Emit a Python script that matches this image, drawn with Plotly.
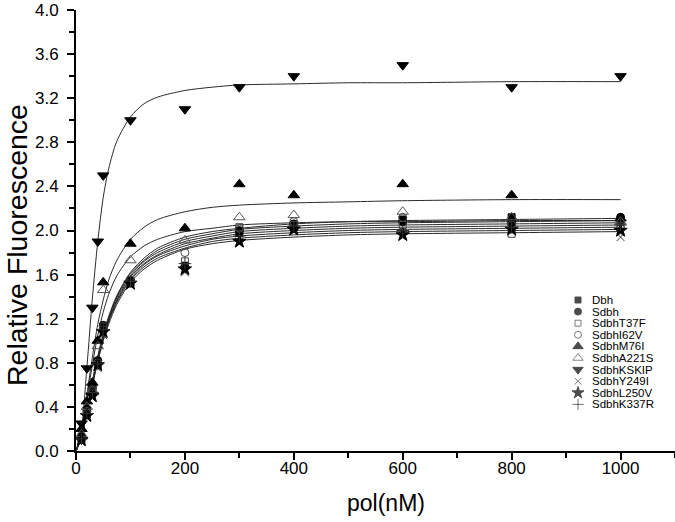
import plotly.graph_objects as go

# ---------------- data ----------------
series_names = ["Dbh", "Sdbh", "SdbhT37F", "SdbhI62V", "SdbhM76I", "SdbhA221S",
                "SdbhKSKIP", "SdbhY249I", "SdbhL250V", "SdbhK337R"]

pol_nM = [10, 20, 30, 40, 50, 100, 200, 300, 400, 600, 800, 1000]

dbh_pts    = [0.12, 0.35, 0.55, 0.80, 1.12, 1.53, 1.68, 1.98, 2.03, 2.10, 2.12, 2.08]
sdbh_pts   = [0.13, 0.38, 0.58, 0.82, 1.14, 1.55, 1.67, 2.00, 2.06, 2.08, 2.07, 2.12]
t37f_pts   = [0.10, 0.33, 0.52, 0.78, 1.10, 1.52, 1.72, 2.03, 2.05, 2.05, 1.97, 2.04]
i62v_pts   = [0.14, 0.36, 0.56, 0.80, 1.13, 1.55, 1.80, 2.02, 2.08, 2.12, 2.05, 2.02]
m76i_pts   = [0.20, 0.45, 0.62, 1.00, 1.53, 1.88, 2.02, 2.42, 2.32, 2.42, 2.32, 2.11]
a221s_pts  = [0.15, 0.40, 0.55, 0.95, 1.46, 1.73, 1.91, 2.12, 2.14, 2.17, 2.12, 2.08]
kskip_pts  = [0.25, 0.75, 1.30, 1.90, 2.50, 3.00, 3.10, 3.30, 3.40, 3.50, 3.30, 3.40]
y249i_pts  = [0.08, 0.30, 0.48, 0.75, 1.05, 1.50, 1.62, 1.90, 2.00, 1.95, 2.00, 1.94]
l250v_pts  = [0.10, 0.32, 0.50, 0.78, 1.08, 1.52, 1.65, 1.90, 2.01, 1.96, 2.01, 2.00]
k337r_pts  = [0.11, 0.34, 0.53, 0.79, 1.10, 1.54, 1.70, 1.95, 2.04, 2.00, 2.03, 2.05]

# fitted curves
fit_x = [0, 10, 20, 30, 40, 50, 60, 75, 100, 125, 150, 200, 250, 300, 400, 500, 600, 800, 1000]

dbh_fit   = [0, .13, .37, .62, .85, 1.05, 1.21, 1.40, 1.61, 1.73, 1.82, 1.92, 1.97, 2.01, 2.04, 2.06, 2.07, 2.08, 2.09]
sdbh_fit  = [0, .13, .37, .63, .86, 1.06, 1.22, 1.41, 1.62, 1.75, 1.84, 1.94, 1.99, 2.02, 2.06, 2.08, 2.09, 2.10, 2.11]
t37f_fit  = [0, .13, .36, .61, .84, 1.03, 1.19, 1.37, 1.58, 1.70, 1.78, 1.88, 1.93, 1.97, 2.00, 2.02, 2.03, 2.04, 2.05]
i62v_fit  = [0, .13, .36, .62, .84, 1.04, 1.20, 1.39, 1.59, 1.72, 1.80, 1.90, 1.95, 1.99, 2.02, 2.04, 2.05, 2.06, 2.07]
m76i_fit  = [0, .17, .51, .85, 1.15, 1.37, 1.55, 1.73, 1.92, 2.03, 2.10, 2.17, 2.21, 2.23, 2.25, 2.26, 2.27, 2.28, 2.28]
a221s_fit = [0, .16, .47, .78, 1.05, 1.26, 1.42, 1.59, 1.76, 1.86, 1.92, 1.99, 2.02, 2.05, 2.07, 2.08, 2.08, 2.09, 2.09]
kskip_fit = [0, .20, .76, 1.38, 1.90, 2.30, 2.56, 2.81, 3.03, 3.15, 3.21, 3.27, 3.30, 3.32, 3.33, 3.34, 3.34, 3.35, 3.35]
y249i_fit = [0, .12, .35, .59, .81, 1.00, 1.15, 1.33, 1.53, 1.65, 1.73, 1.83, 1.88, 1.91, 1.94, 1.96, 1.97, 1.98, 1.99]
l250v_fit = [0, .12, .35, .60, .82, 1.01, 1.17, 1.35, 1.55, 1.67, 1.75, 1.84, 1.90, 1.93, 1.96, 1.98, 1.99, 2.00, 2.01]
k337r_fit = [0, .12, .35, .60, .83, 1.02, 1.18, 1.36, 1.56, 1.69, 1.77, 1.86, 1.92, 1.95, 1.98, 2.00, 2.01, 2.02, 2.03]

x_tick_vals = [0, 200, 400, 600, 800, 1000]
y_tick_vals = [0.0, 0.4, 0.8, 1.2, 1.6, 2.0, 2.4, 2.8, 3.2, 3.6, 4.0]
y_tick_text = ["0.0", "0.4", "0.8", "1.2", "1.6", "2.0", "2.4", "2.8", "3.2", "3.6", "4.0"]
x_title = "pol(nM)"
y_title = "Relative Fluorescence"

points = [dbh_pts, sdbh_pts, t37f_pts, i62v_pts, m76i_pts, a221s_pts,
          kskip_pts, y249i_pts, l250v_pts, k337r_pts]
fits = [dbh_fit, sdbh_fit, t37f_fit, i62v_fit, m76i_fit, a221s_fit,
        kskip_fit, y249i_fit, l250v_fit, k337r_fit]

# ---------------- styles ----------------
symbols = ["square", "circle", "square-open", "circle-open", "triangle-up",
           "triangle-up-open", "triangle-down", "x-thin-open", "star", "cross-thin-open"]
sizes = [7, 8, 7, 8, 10, 10, 10, 8, 10, 9]
mcolors = ["#000000", "#000000", "#444444", "#444444", "#000000",
           "#555555", "#000000", "#444444", "#000000", "#333333"]

FONT = "Liberation Sans, Arial, sans-serif"

W, H = 675, 522
PLOT_L, PLOT_R, PLOT_T, PLOT_B = 76, 675, 10, 451   # pixel box of the plot area


def px_to_paper(px, py):
    return (px - PLOT_L) / (PLOT_R - PLOT_L), (PLOT_B - py) / (PLOT_B - PLOT_T)


fig = go.Figure()

for name, fy in zip(series_names, fits):
    fig.add_trace(go.Scatter(x=fit_x, y=fy, mode="lines", name=name + " fit",
                             line=dict(color="#2a2a2a", width=1, shape="spline", smoothing=0.8),
                             showlegend=False, hoverinfo="skip", cliponaxis=False))

for i, (name, py) in enumerate(zip(series_names, points)):
    fig.add_trace(go.Scatter(x=pol_nM, y=py, mode="markers", name=name,
                             marker=dict(symbol=symbols[i], size=sizes[i], color=mcolors[i],
                                         line=dict(width=1, color=mcolors[i])),
                             showlegend=False, cliponaxis=False))

# compact legend drawn on helper axes whose units are pixels
leg_x_marker = 578
leg_x_text = 591
leg_y0 = 300
leg_dy = 11.6
leg_y = [leg_y0 + i * leg_dy for i in range(len(series_names))]

fig.add_trace(go.Scatter(x=[leg_x_marker] * len(series_names), y=leg_y, mode="markers",
                         xaxis="x2", yaxis="y2", showlegend=False, hoverinfo="skip",
                         marker=dict(symbol=symbols, size=[s - 1 for s in sizes], color=mcolors,
                                     line=dict(width=1, color=mcolors))))
for name, yy in zip(series_names, leg_y):
    fig.add_annotation(x=leg_x_text, y=yy, xref="x2", yref="y2", text=name,
                       showarrow=False, xanchor="left", yanchor="middle", borderpad=0,
                       font=dict(family=FONT, size=11.5, color="#000"))

# axis titles
xt = px_to_paper(386, 503)
yt = px_to_paper(17, 245)
fig.add_annotation(x=xt[0], y=xt[1], xref="paper", yref="paper", text=x_title, showarrow=False,
                   xanchor="center", yanchor="middle", font=dict(family=FONT, size=23, color="#000"))
fig.add_annotation(x=yt[0], y=yt[1], xref="paper", yref="paper", text=y_title, showarrow=False,
                   textangle=-90, xanchor="center", yanchor="middle",
                   font=dict(family=FONT, size=28.5, color="#000"))

fig.update_layout(
    width=W, height=H,
    margin=dict(l=PLOT_L, r=W - PLOT_R, t=PLOT_T, b=H - PLOT_B, autoexpand=False),
    paper_bgcolor="white", plot_bgcolor="white",
    font=dict(family=FONT, color="#000"),
    showlegend=False,
    xaxis=dict(range=[0, 1100], tickvals=x_tick_vals, ticks="outside", ticklen=7, tickwidth=1.5,
               tickcolor="#000", showline=True, linecolor="#000", linewidth=1.8,
               showgrid=False, zeroline=False, tickfont=dict(size=17), automargin=False,
               ticklabelstandoff=-6, ticklabeloverflow="allow",
               minor=dict(dtick=100, tick0=0, ticks="outside", ticklen=5, tickwidth=1.5, tickcolor="#000", showgrid=False)),
    yaxis=dict(range=[0, 4.0], tickvals=y_tick_vals, ticktext=y_tick_text, ticks="outside", ticklen=7,
               tickwidth=1.5, tickcolor="#000", showline=True, linecolor="#000", linewidth=1.8,
               showgrid=False, zeroline=False, tickfont=dict(size=17), automargin=False,
               ticklabelstandoff=5, ticklabeloverflow="allow",
               minor=dict(dtick=0.2, tick0=0, ticks="outside", ticklen=5, tickwidth=1.5, tickcolor="#000", showgrid=False)),
    xaxis2=dict(domain=[0, 1], range=[PLOT_L, PLOT_R], visible=False, anchor="y2", overlaying="x"),
    yaxis2=dict(domain=[0, 1], range=[PLOT_B, PLOT_T], visible=False, anchor="x2", overlaying="y"),
)

# remove the browser's default 8px body margin so the figure sits at the page origin
fig.write_html("out.html", config={"displayModeBar": False},
               post_script="document.body.style.margin='0';")
